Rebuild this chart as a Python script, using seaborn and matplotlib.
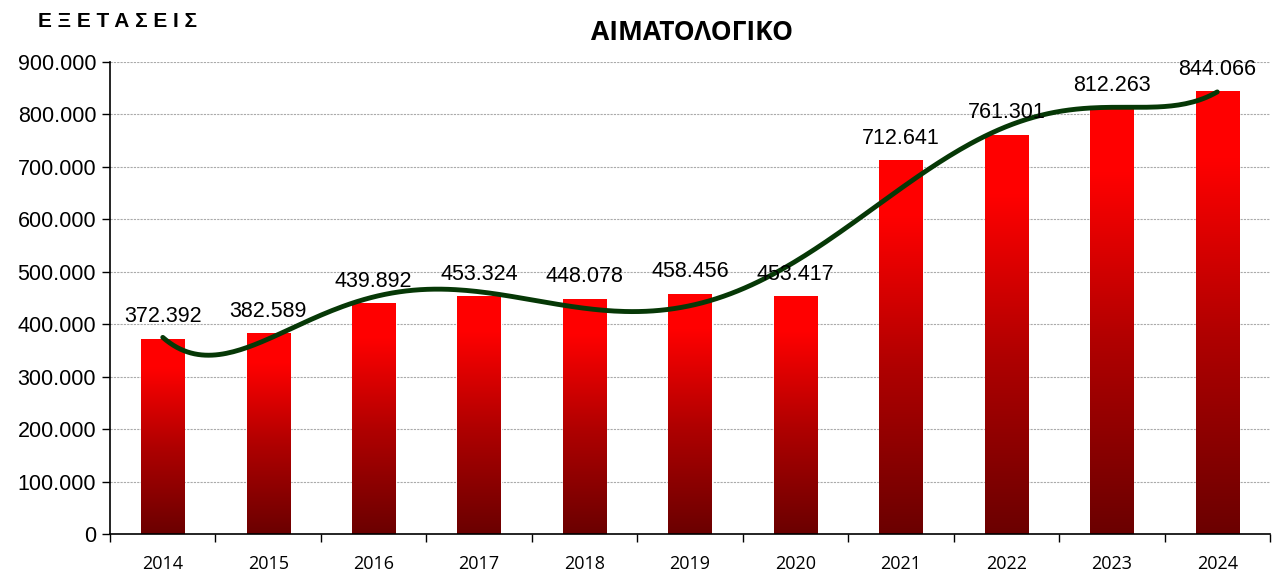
import numpy as np
import pandas as pd
import matplotlib
matplotlib.use("Agg")
import matplotlib.pyplot as plt
import seaborn as sns
from matplotlib.colors import LinearSegmentedColormap
from matplotlib.ticker import FuncFormatter

# Δεδομένα
years = ["2014", "2015", "2016", "2017", "2018", "2019", "2020", "2021", "2022", "2023", "2024"]
tests = [372392, 382589, 439892, 453324, 448078, 458456, 453417, 712641, 761301, 812263, 844066]

df = pd.DataFrame({"year": years, "tests": tests})

sns.set_theme(style="white")
plt.rcParams["font.family"] = ["Liberation Sans", "DejaVu Sans"]
plt.rcParams["text.color"] = "black"
plt.rcParams["xtick.color"] = "black"
plt.rcParams["ytick.color"] = "black"

fig = plt.figure(figsize=(12.81, 5.74), dpi=100)
ax = fig.add_axes([0.0859, 0.0697, 0.9055, 0.8223])

sns.barplot(data=df, x="year", y="tests", ax=ax, color="red", width=0.41,
            saturation=1, zorder=2)

# gradient ανά μπάρα (κόκκινο πάνω, σκούρο κόκκινο κάτω)
cmap = LinearSegmentedColormap.from_list(
    "redgrad", [(0.0, "#6B0000"), (0.45, "#B00000"), (0.85, "#FF0000"), (1.0, "#FF0000")])
grad = np.linspace(0, 1, 256).reshape(-1, 1)
for patch in ax.patches:
    x0, y0 = patch.get_x(), patch.get_y()
    w, h = patch.get_width(), patch.get_height()
    im = ax.imshow(grad, cmap=cmap, origin="lower", aspect="auto",
                   extent=[x0, x0 + w, y0, y0 + h], zorder=2.5)
    im.set_clip_path(patch)

# τιμές πάνω από τις μπάρες
for i, v in enumerate(tests):
    lbl = f"{v:,}".replace(",", ".")
    ax.text(i, v + 22000, lbl, ha="center", va="bottom", fontsize=15.5,
            color="black", zorder=4)

# πολυωνυμική γραμμή τάσης
xi = np.arange(len(tests))
coef = np.polyfit(xi, tests, 6)
xs = np.linspace(0, len(tests) - 1, 300)
ax.plot(xs, np.polyval(coef, xs), color="#063806", lw=3.5, zorder=3,
        solid_capstyle="round")

ax.set_xlim(-0.5, len(tests) - 0.5)
ax.set_ylim(0, 900000)
ax.set_yticks(np.arange(0, 900001, 100000))
ax.yaxis.set_major_formatter(FuncFormatter(lambda v, p: f"{int(v):,}".replace(",", ".")))
ax.grid(axis="y", color="#aaaaaa", linestyle=(0, (2, 1)), linewidth=0.8, zorder=0)
ax.set_axisbelow(True)

ax.set_xlabel("")
ax.set_ylabel("")
for s in ["top", "right"]:
    ax.spines[s].set_visible(False)
for s in ["left", "bottom"]:
    ax.spines[s].set_color("black")
    ax.spines[s].set_linewidth(1.2)

ax.tick_params(axis="y", which="major", left=True, length=6, width=1, color="black",
               labelsize=15.5, pad=4, labelcolor="black")
ax.tick_params(axis="x", which="major", bottom=False, labelsize=13, pad=9,
               labelcolor="black")
ax.set_xticks(np.arange(-0.5, len(tests), 1.0), minor=True)
ax.tick_params(axis="x", which="minor", bottom=True, length=6, width=1, color="black")
for lab in ax.get_xticklabels():
    lab.set_fontfamily(["Open Sans", "DejaVu Sans"])

fig.text(0.540, 0.944, "ΑΙΜΑΤΟΛΟΓΙΚΟ", ha="center", va="center", fontsize=19,
         fontweight="bold", color="black", family=["Open Sans", "DejaVu Sans"])
fig.text(0.0297, 0.962, "Ε Ξ Ε Τ Α Σ Ε Ι Σ", ha="left", va="center", fontsize=15,
         fontweight="bold", color="black", family=["Liberation Sans", "DejaVu Sans"])

fig.savefig("out.png", dpi=100)
